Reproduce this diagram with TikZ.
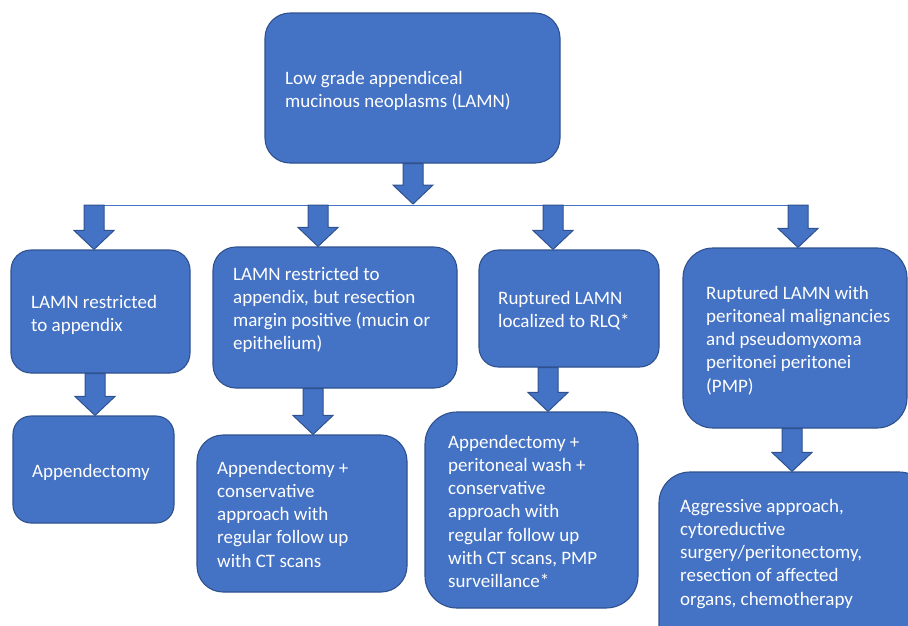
\documentclass[tikz,border=0pt]{standalone}
\usepackage{fontspec}
\setmainfont{Carlito}
\usetikzlibrary{calc}
\definecolor{boxfill}{HTML}{4472C4}
\definecolor{boxline}{HTML}{2F528F}
\tikzset{
  box/.style={rectangle, draw=boxline, fill=boxfill, line width=1.1pt, inner sep=0pt},
  txt/.style={text=white, inner sep=0pt, anchor=base west, font=\fontsize{19}{23.3}\selectfont},
  barrow/.style={draw=boxline, fill=boxfill, line width=1pt, line join=miter},
  hline/.style={draw=boxfill, line width=1pt},
}
\newcommand\ml[1]{\vtop{\baselineskip=23.3pt\lineskiplimit=-20pt\lineskip=0pt #1}}
% #1 x (in pt), #2 start point, #3 tip point
\newcommand\blockarrow[3]{%
  \draw[barrow] let \p1=(#2), \p2=(#3) in
    (#1pt-10pt,\y1) -- (#1pt+10pt,\y1) -- (#1pt+10pt,\y2+19pt) -- (#1pt+20pt,\y2+19pt)
    -- (#1pt,\y2) -- (#1pt-20pt,\y2+19pt) -- (#1pt-10pt,\y2+19pt) -- cycle;}
\begin{document}
\begin{tikzpicture}[x=1pt,y=-1pt]
\useasboundingbox (0,0) rectangle (908,625);
\clip (0,0) rectangle (908,625);
% bar
\coordinate (j) at (413,204);
\coordinate (s1) at (94,205);
\coordinate (s2) at (318,205);
\coordinate (s3) at (553,205);
\coordinate (s4) at (798,205);
\coordinate (l1) at (104,205);
\coordinate (l4) at (788,205);
\draw[hline] (l1) -- (l4);
% boxes
\node[box, minimum width=295pt, minimum height=150pt, rounded corners=25pt] (top) at (412.5,88) {};
\node[box, minimum width=179pt, minimum height=123pt, rounded corners=20pt] (b1) at (100.5,311.5) {};
\node[box, minimum width=244pt, minimum height=141pt, rounded corners=23pt] (b2) at (335,317.5) {};
\node[box, minimum width=180pt, minimum height=117pt, rounded corners=19.5pt] (b3) at (569,308.5) {};
\node[box, minimum width=224pt, minimum height=180pt, rounded corners=30pt] (b4) at (795,338) {};
\node[box, minimum width=161pt, minimum height=107pt, rounded corners=18pt] (c1) at (93.5,469.5) {};
\node[box, minimum width=210pt, minimum height=157pt, rounded corners=26pt] (c2) at (302,513.5) {};
\node[box, minimum width=213pt, minimum height=196pt, rounded corners=32pt] (c3) at (531.5,510) {};
\node[box, minimum width=271pt, minimum height=188pt, rounded corners=31pt] (c4) at (794.5,566) {};
% arrows
\blockarrow{413}{top.south}{j}
\blockarrow{94}{s1}{b1.north}
\blockarrow{318}{s2}{b2.north}
\blockarrow{553}{s3}{b3.north}
\blockarrow{798}{s4}{b4.north}
\blockarrow{95}{b1.south}{c1.north}
\blockarrow{313}{b2.south}{c2.north}
\blockarrow{548}{b3.south}{c3.north}
\blockarrow{792}{b4.south}{c4.north}
% texts
\node[txt] (t0) at (285,84) {\ml{\hbox{Low grade appendiceal}\hbox{mucinous neoplasms (LAMN)}}};
\node[txt] (t1) at (31,308) {\ml{\hbox{LAMN restricted}\hbox{to appendix}}};
\node[txt] (t2) at (233,280) {\ml{\hbox{LAMN restricted to}\hbox{appendix, but resection}\hbox{margin positive (mucin or}\hbox{epithelium)}}};
\node[txt] (t3) at (498,304) {\ml{\hbox{Ruptured LAMN}\hbox{localized to RLQ*}}};
\node[txt] (t4) at (706,299) {\ml{\hbox{Ruptured LAMN with}\hbox{peritoneal malignancies}\hbox{and pseudomyxoma}\hbox{peritonei peritonei}\hbox{(PMP)}}};
\node[txt] (u1) at (32,477) {\ml{\hbox{Appendectomy}}};
\node[txt] (u2) at (217,474) {\ml{\hbox{Appendectomy +}\hbox{conservative}\hbox{approach with}\hbox{regular follow up}\hbox{with CT scans}}};
\node[txt] (u3) at (448,448) {\ml{\hbox{Appendectomy +}\hbox{peritoneal wash +}\hbox{conservative}\hbox{approach with}\hbox{regular follow up}\hbox{with CT scans, PMP}\hbox{surveillance*}}};
\node[txt] (u4) at (680,512) {\ml{\hbox{Aggressive approach,}\hbox{cytoreductive}\hbox{surgery/peritonectomy,}\hbox{resection of affected}\hbox{organs, chemotherapy}}};
\end{tikzpicture}
\end{document}
